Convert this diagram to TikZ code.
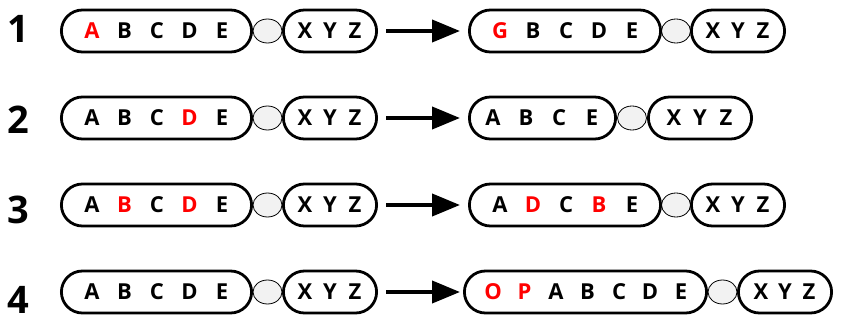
\documentclass[tikz,border=0pt]{standalone}
\usepackage{fontspec}
\setmainfont{Open Sans}
\usetikzlibrary{arrows.meta, shapes.geometric, shapes.misc}

% one chromosome: name, y, left end, centromere left, centromere right, right end
\newcommand{\chromo}[6]{%
  \node[centro] (#1c) at ({(#4+#5)/2},#2) {};
  \node[arm, minimum width={#4-#3-2.8}] (#1p) at ({(#3+#4)/2},#2) {};
  \node[arm, minimum width={#6-#5-2.8}] (#1q) at ({(#5+#6)/2},#2) {};
}

\begin{document}
\begin{tikzpicture}[x=1pt, y=-1pt,
  arm/.style={rounded rectangle, draw, line width=2.8pt, minimum height=42pt, inner sep=0pt},
  centro/.style={ellipse, draw, line width=0.8pt, fill=gray!10, minimum width=29pt, minimum height=24pt, inner sep=0pt},
  gene/.style={font=\fontsize{22}{26}\selectfont\bfseries, inner sep=0pt},
  hit/.style={gene, text=red},
  rowno/.style={font=\fontsize{38}{44}\selectfont\bfseries, anchor=base west, inner sep=0pt},
  bigarrow/.style={line width=4pt, -{Triangle[length=28pt,width=22pt]}, shorten <=8pt}]

\useasboundingbox (0,0) rectangle (842,334);

% row numbers
\node[rowno] (n1) at (7,43) {1};
\node[rowno] (n2) at (7,133) {2};
\node[rowno] (n3) at (7,223) {3};
\node[rowno] (n4) at (7,313) {4};

% 1: A replaced by G
\chromo{l1}{31}{60}{253}{282}{378}
\foreach \x/\t/\s in {92/A/hit, 124.5/B/gene, 157/C/gene, 189.5/D/gene, 222/E/gene, 305/X/gene, 330/Y/gene, 355/Z/gene}
  \node[\s] (l1\t) at (\x,31) {\t};
\chromo{r1}{31}{468}{662}{690}{786}
\foreach \x/\t/\s in {500/G/hit, 533/B/gene, 566/C/gene, 599/D/gene, 632/E/gene, 713/X/gene, 738/Y/gene, 763/Z/gene}
  \node[\s] (r1\t) at (\x,31) {\t};
\coordinate (t1) at (460,31);
\draw[bigarrow] (l1q.east) -- (t1);

% 2: D lost
\chromo{l2}{118}{60}{253}{282}{378}
\foreach \x/\t/\s in {92/A/gene, 124.5/B/gene, 157/C/gene, 189.5/D/hit, 222/E/gene, 305/X/gene, 330/Y/gene, 355/Z/gene}
  \node[\s] (l2\t) at (\x,118) {\t};
\chromo{r2}{118}{468}{617}{647}{753}
\foreach \x/\t/\s in {493/A/gene, 526/B/gene, 559/C/gene, 592/E/gene, 674/X/gene, 700/Y/gene, 726/Z/gene}
  \node[\s] (r2\t) at (\x,118) {\t};
\coordinate (t2) at (460,118);
\draw[bigarrow] (l2q.east) -- (t2);

% 3: B and D swapped
\chromo{l3}{205}{60}{253}{282}{378}
\foreach \x/\t/\s in {92/A/gene, 124.5/B/hit, 157/C/gene, 189.5/D/hit, 222/E/gene, 305/X/gene, 330/Y/gene, 355/Z/gene}
  \node[\s] (l3\t) at (\x,205) {\t};
\chromo{r3}{205}{468}{662}{690}{786}
\foreach \x/\t/\s in {500/A/gene, 533/D/hit, 566/C/gene, 599/B/hit, 632/E/gene, 713/X/gene, 738/Y/gene, 763/Z/gene}
  \node[\s] (r3\t) at (\x,205) {\t};
\coordinate (t3) at (460,205);
\draw[bigarrow] (l3q.east) -- (t3);

% 4: O P added
\chromo{l4}{292}{60}{253}{282}{378}
\foreach \x/\t/\s in {92/A/gene, 124.5/B/gene, 157/C/gene, 189.5/D/gene, 222/E/gene, 305/X/gene, 330/Y/gene, 355/Z/gene}
  \node[\s] (l4\t) at (\x,292) {\t};
\chromo{r4}{292}{463}{708}{737}{833}
\foreach \x/\t/\s in {493/O/hit, 524.5/P/hit, 556/A/gene, 587.5/B/gene, 619/C/gene, 650/D/gene, 681/E/gene, 761/X/gene, 785/Y/gene, 809/Z/gene}
  \node[\s] (r4\t) at (\x,292) {\t};
\coordinate (t4) at (460,292);
\draw[bigarrow] (l4q.east) -- (t4);

\end{tikzpicture}
\end{document}
